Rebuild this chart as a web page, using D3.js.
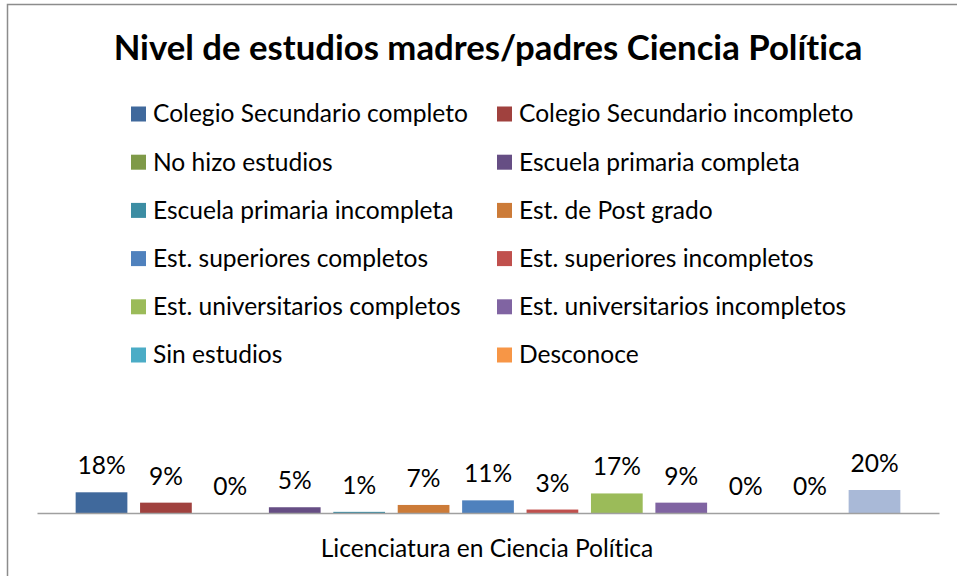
<!DOCTYPE html>
<html><head><meta charset="utf-8">
<script src="https://cdn.jsdelivr.net/npm/d3@7"></script>
<style>html,body{margin:0;padding:0;background:#fff;overflow:hidden} text{font-variant-ligatures:none;font-feature-settings:"liga" 0,"dlig" 0}</style>
</head><body>
<svg id="c" width="957" height="576"></svg>
<script>
const title = "Nivel de estudios madres/padres Ciencia Política";
const category = "Licenciatura en Ciencia Política";
const seriesNames = [
  "Colegio Secundario completo", "Colegio Secundario incompleto",
  "No hizo estudios", "Escuela primaria completa",
  "Escuela primaria incompleta", "Est. de Post grado",
  "Est. superiores completos", "Est. superiores incompletos",
  "Est. universitarios completos", "Est. universitarios incompletos",
  "Sin estudios", "Desconoce", "Serie 13"
];
const legendCount = 12; // the 13th series is not shown in the legend
const values = [0.18, 0.09, 0.00, 0.05, 0.01, 0.07, 0.11, 0.03, 0.17, 0.09, 0.00, 0.00, 0.20];
const colors = ["#40699C", "#A0413E", "#7F9A48", "#664E84", "#3C8DA3", "#CC7B38",
                "#4F81BD", "#C0504D", "#9BBB59", "#8064A2", "#4BACC6", "#F79646", "#A9B9D7"];

const svg = d3.select("#c");
const FONT = "Lato, 'Open Sans', sans-serif";

// chart border
svg.append("rect").attr("x", 7.5).attr("y", 4.5).attr("width", 1000).attr("height", 1000)
  .attr("fill", "#fff").attr("stroke", "#8c8c8c").attr("stroke-width", 1.5);

function fit(sel, target) {
  const w = sel.node().getComputedTextLength();
  const fs = parseFloat(sel.attr("font-size"));
  sel.attr("font-size", fs * target / w);
}

// title
const t = svg.append("text").attr("x", 488).attr("y", 60).attr("text-anchor", "middle")
  .attr("font-family", FONT).attr("font-weight", "bold").attr("font-size", 30)
  .attr("fill", "#000").text(title);
fit(t, 749);

// legend
const legX = [131, 497];
const legY0 = 114, legStep = 48.2;
const leg = svg.append("g");
let legFont = 23;
seriesNames.slice(0, legendCount).forEach((name, i) => {
  const col = i % 2, row = Math.floor(i / 2);
  const g = leg.append("g").attr("transform", `translate(${legX[col]},${legY0 + row * legStep})`);
  g.append("rect").attr("x", 0).attr("y", -7.5).attr("width", 15).attr("height", 15).attr("fill", colors[i]);
  g.append("text").attr("class", "lt").attr("x", 22).attr("y", 8.3)
    .attr("font-family", FONT).attr("font-size", legFont).attr("fill", "#000").text(name);
});
const first = leg.select("text.lt");
const w0 = first.node().getComputedTextLength();
const lf = legFont * 315 / w0;
leg.selectAll("text.lt").attr("font-size", lf);

// scales
const x = d3.scaleBand().domain(seriesNames).range([37, 939]).paddingInner(0.197).paddingOuter(0.6);
const y = d3.scaleLinear().domain([0, 0.20]).range([513, 490]);

// bars
svg.append("g").selectAll("rect").data(values).join("rect")
  .attr("x", (d, i) => x(seriesNames[i]))
  .attr("width", x.bandwidth())
  .attr("y", d => y(d))
  .attr("height", d => y(0) - y(d))
  .attr("fill", (d, i) => colors[i]);

// axis line
const axis = svg.append("g").attr("transform", `translate(0,${y(0)})`)
  .call(d3.axisBottom(x).tickSize(0).tickFormat(""));
axis.select(".domain").attr("stroke", "#a0a0a0").attr("stroke-width", 1.5);

// data labels
svg.append("g").selectAll("text").data(values).join("text")
  .attr("x", (d, i) => x(seriesNames[i]) + x.bandwidth() / 2)
  .attr("y", d => y(d) - 18)
  .attr("text-anchor", "middle")
  .attr("font-family", FONT).attr("font-size", lf).attr("fill", "#000")
  .text(d => d3.format(".0%")(d));

// category label
svg.append("text").attr("x", 487).attr("y", 556.7).attr("text-anchor", "middle")
  .attr("font-family", FONT).attr("font-size", lf).attr("fill", "#000").text(category);
</script>
</body></html>
